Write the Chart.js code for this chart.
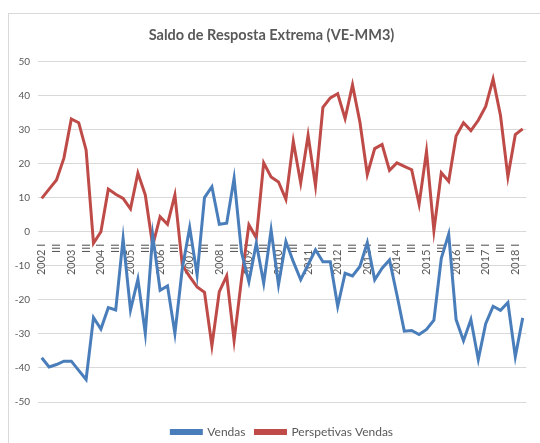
<!DOCTYPE html>
<html>
<head>
<meta charset="utf-8">
<script src="https://cdn.jsdelivr.net/npm/chart.js@4.4.1/dist/chart.umd.min.js"></script>
<style>
  html, body { margin: 0; padding: 0; background: #fff; }
  #wrap { position: relative; width: 540px; height: 443px; }
  #frame { position: absolute; left: 8px; top: 13px; right: -2px; bottom: -2px; border-left: 1px solid #d9d9d9; border-top: 1px solid #d9d9d9; pointer-events: none; }
</style>
</head>
<body>
<div id="wrap">
  <canvas id="myChart" width="540" height="443"></canvas>
  <div id="frame"></div>
</div>
<script>
const years = [2002, 2003, 2004, 2005, 2006, 2007, 2008, 2009, 2010, 2011, 2012, 2013, 2014, 2015, 2016, 2017, 2018]
const quarters = ['I', 'II', 'III', 'IV']
const vendas = [
    -37, -39.7, -39, -38, -38, -40.7, -43.4, -25.2, -28.6, -22.3,
    -23, -2, -23, -13.9, -29.9, -1, -17.2, -15.9, -29.9, -10.8,
    1.2, -12.7, 10, 13.2, 2.2, 2.5, 15.7, -6, -14.7, -3.4,
    -15.1, 0.5, -15.6, -2.9, -8.8, -14.1, -9.7, -5.3, -8.8, -8.8,
    -21.9, -12.2, -13, -10.2, -3.2, -14.1, -10.7, -8.3, -18.5, -29.2,
    -29, -30.2, -28.7, -26, -7.8, -0.7, -25.8, -32, -25.8, -37.5,
    -27, -21.9, -23.1, -20.8, -36.7, -25.3
]
const perspetivas = [
    9.8, 12.5, 15.2, 21.6, 33.1, 32, 24, -3.4, 0, 12.5,
    11, 9.8, 6.7, 17.2, 10.8, -4.1, 4.4, 2.2, 10.8, -9.8,
    -13.2, -16.2, -17.8, -33.5, -17.6, -13, -31.9, -14, 2, -1.8,
    20.2, 16.1, 14.6, 9.5, 26.5, 14.3, 28.3, 13.5, 36.5, 39.3,
    40.5, 33.2, 43.1, 32.2, 16.8, 24.4, 25.6, 18, 20.2, 19.2,
    18.2, 8.1, 23.6, 0.3, 17.3, 14.8, 28.1, 32, 29.7, 32.7,
    36.8, 44.8, 34.1, 16.1, 28.5, 30.2
]

// quarterly categories, first quarter carries the year
var labels = []
years.forEach(y => {
    quarters.forEach(q => {
        labels.push(q === 'I' ? y + ' I' : q)
    })
})
labels = labels.slice(0, vendas.length)

const grey = '#595959'
Chart.defaults.font.family = 'Lato'

const canvas = document.getElementById('myChart')
new Chart(canvas, {
    type: 'line',
    data: {
        labels,
        datasets: [{
            label: 'Vendas',
            data: vendas,
            borderColor: '#4a7ebb',
            backgroundColor: '#4a7ebb',
            borderWidth: 3,
            pointRadius: 0,
            tension: 0,
        }, {
            label: 'Perspetivas Vendas',
            data: perspetivas,
            borderColor: '#be4b48',
            backgroundColor: '#be4b48',
            borderWidth: 3,
            pointRadius: 0,
            tension: 0,
        }],
    },
    options: {
        responsive: false,
        animation: false,
        layout: { padding: { left: 8, right: 5, top: 11, bottom: -5 } },
        plugins: {
            title: {
                display: true,
                text: 'Saldo de Resposta Extrema (VE-MM3)',
                color: grey,
                font: { size: 14.5, weight: 'bold' },
                padding: { top: 16, bottom: 17 },
            },
            legend: {
                position: 'bottom',
                fullSize: false,
                labels: {
                    boxWidth: 30,
                    boxHeight: 3,
                    color: grey,
                    font: { size: 12 },
                    padding: 10,
                },
            },
            tooltip: { enabled: false },
        },
        scales: {
            y: {
                min: -50,
                max: 50,
                ticks: { stepSize: 10, color: grey, font: { size: 10 }, padding: 8 },
                grid: { color: '#d9d9d9', drawTicks: false },
                border: { display: false },
                afterFit: s => { s.width = 30 },
            },
            x: {
                position: { y: 0 },
                offset: true,
                grid: { display: false },
                border: { display: false },
                ticks: {
                    color: grey,
                    font: { size: 11 },
                    autoSkip: false,
                    minRotation: 90,
                    maxRotation: 90,
                    padding: 4,
                    callback: function(value, index) {
                        return index % 2 === 0 ? this.getLabelForValue(value) : ''
                    },
                },
                afterFit: s => { s.height = 0 },
            },
            // empty bottom axis, only keeps a gap above the legend
            gap: {
                type: 'category',
                position: 'bottom',
                grid: { display: false },
                border: { display: false },
                ticks: { display: false },
                afterFit: s => { s.height = 14 },
            },
        },
    },
})
</script>
</body>
</html>
